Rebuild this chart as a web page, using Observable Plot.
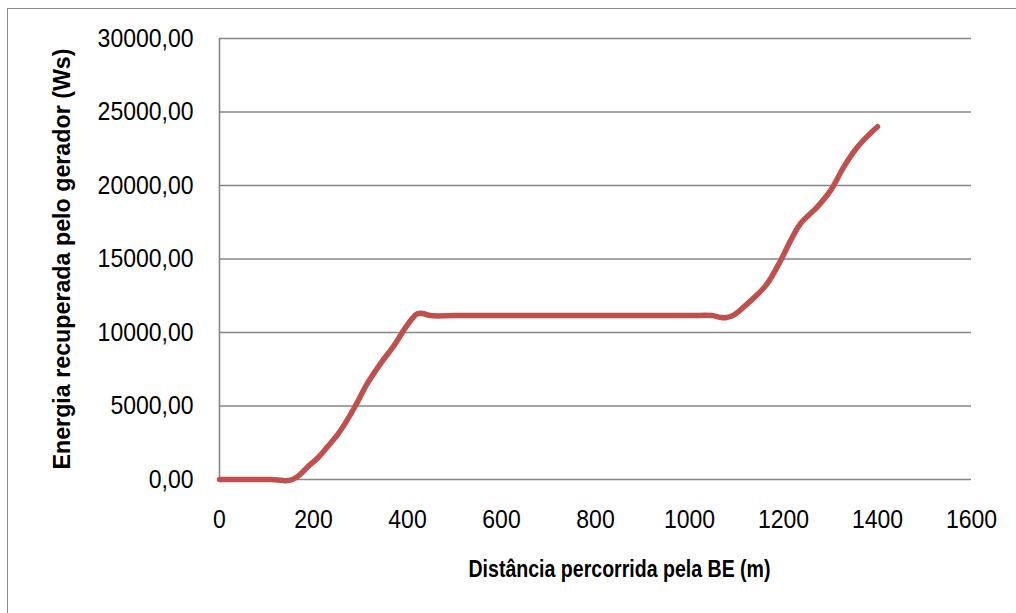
<!DOCTYPE html>
<html>
<head>
<meta charset="utf-8">
<script src="https://cdn.jsdelivr.net/npm/d3@7"></script>
<script src="https://cdn.jsdelivr.net/npm/@observablehq/plot@0.6"></script>
<style>
  html, body { margin: 0; padding: 0; background: #fff; }
  #wrap { position: relative; width: 1016px; height: 613px; overflow: hidden; }
  #frame { position: absolute; left: 7px; top: 8px; width: 1100px; height: 700px; border: 1.5px solid #8c8c8c; box-sizing: border-box; }
  #chart { position: absolute; left: 0; top: 0; }
</style>
</head>
<body>
<div id="wrap"><div id="frame"></div><div id="chart"></div></div>
<script>
const distance = [0, 60, 110, 125, 140, 155, 170, 187, 210, 229, 250, 265, 289, 314, 343, 371, 396, 410, 421, 432, 449, 500, 600, 700, 800, 900, 1000, 1048, 1065, 1077, 1095, 1123, 1145, 1165, 1194, 1215, 1236, 1272, 1300, 1328, 1357, 1380, 1400];
const energy   = [0, 0, 0, -30, -80, 0, 300, 840, 1500, 2200, 3000, 3700, 5000, 6500, 7900, 9100, 10350, 10950, 11270, 11300, 11150, 11150, 11150, 11150, 11150, 11150, 11150, 11150, 11030, 11000, 11200, 11950, 12600, 13300, 14900, 16250, 17400, 18550, 19650, 21250, 22600, 23400, 24000];
const xTicks = [0, 200, 400, 600, 800, 1000, 1200, 1400, 1600];
const yTicks = [0, 5000, 10000, 15000, 20000, 25000, 30000];
const xTitle = "Distância percorrida pela BE (m)";
const yTitle = "Energia recuperada pelo gerador (Ws)";

const data = distance.map((d, i) => ({x: d, y: energy[i]}));
const fmtY = d => d.toFixed(2).replace(".", ",");
const fmtX = d => String(d);

const chart = Plot.plot({
  width: 1016,
  height: 613,
  marginLeft: 219,
  marginRight: 45,
  marginTop: 38,
  marginBottom: 134,
  style: { fontFamily: "'Liberation Sans', Arial, sans-serif", fontSize: "25px", color: "#000", background: "transparent" },
  x: { domain: [0, 1600] },
  y: { domain: [0, 30000] },
  marks: [
    Plot.gridY(yTicks, { stroke: "#868686", strokeOpacity: 1, strokeWidth: 1.6 }),
    Plot.ruleX([0], { stroke: "#868686", strokeWidth: 1.6 }),
    Plot.axisY(yTicks, { tickSize: 0, tickPadding: 26, tickFormat: fmtY, label: null, fontSize: 25, className: "tk" }),
    Plot.axisX(xTicks, { tickSize: 0, tickPadding: 31, tickFormat: fmtX, label: null, fontSize: 25, className: "tk" }),
    Plot.line(data, { x: "x", y: "y", stroke: "#c0504d", strokeWidth: 5.5, curve: "catmull-rom", strokeLinecap: "round", strokeLinejoin: "round" }),
    Plot.text([xTitle], { frameAnchor: "bottom", dx: 24, dy: 97, fontWeight: "bold", fontSize: 24, fill: "#000", textAnchor: "middle", className: "ttlx" }),
    Plot.text([yTitle], { frameAnchor: "left", rotate: -90, dx: -157, fontWeight: "bold", fontSize: 24, fill: "#000", textAnchor: "middle", className: "ttly" })
  ]
});
document.getElementById("chart").appendChild(chart);

// condense text horizontally to mimic the narrow face of the original
chart.querySelectorAll("g.tk text").forEach(t => {
  const w = t.getComputedTextLength();
  t.setAttribute("textLength", (w * 0.92).toFixed(1));
  t.setAttribute("lengthAdjust", "spacingAndGlyphs");
});
chart.querySelectorAll("g.ttlx text").forEach(t => { t.setAttribute("textLength", 302); t.setAttribute("lengthAdjust", "spacingAndGlyphs"); });
chart.querySelectorAll("g.ttly text").forEach(t => { t.setAttribute("textLength", 421); t.setAttribute("lengthAdjust", "spacingAndGlyphs"); });
</script>
</body>
</html>
